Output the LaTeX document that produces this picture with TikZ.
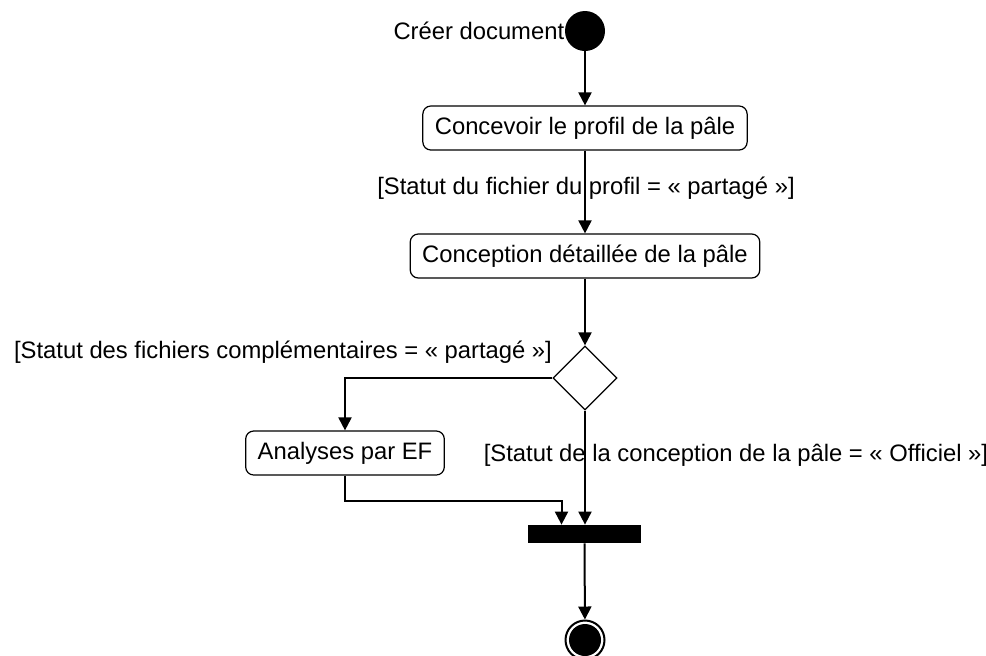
\documentclass[tikz,border=0pt]{standalone}
\usepackage{fontspec}
\setmainfont{Liberation Sans}
\usetikzlibrary{arrows.meta,shapes.geometric}

\tikzset{
  action/.style={draw, rounded corners=4pt, line width=0.6pt, inner xsep=6pt, minimum height=22pt},
  flow/.style={-{Triangle[length=6.5pt,width=6.5pt]}, line width=1pt},
}

\begin{document}
\begin{tikzpicture}[x=0.5pt,y=-0.5pt,font=\fontsize{11.9pt}{14pt}\selectfont]
    \useasboundingbox (0,0) rectangle (986,655);

    \node[circle, fill, minimum size=20pt, inner sep=0pt] (debut) at (585,31) {};
    \node[anchor=east, inner sep=0pt] (debutlbl) at (debut.west) {Créer document};

    \node[action] (profil) at (585,128) {Concevoir le profil de la pâle};
    \node (garde1) at (586,188) {[Statut du fichier du profil = « partagé »]};
    \node[action] (detail) at (585,256) {Conception détaillée de la pâle};

    \node[diamond, draw, line width=0.6pt, minimum size=32pt, inner sep=0pt] (choix) at (585,378) {};
    \node (garde2) at (283,352) {[Statut des fichiers complémentaires = « partagé »]};
    \node[action] (analyse) at (345,453) {Analyses par EF};
    \node (garde3) at (736,455) {[Statut de la conception de la pâle = « Officiel »]};

    \node[fill, minimum width=56.5pt, minimum height=9pt, inner sep=0pt] (jonction) at (584.5,534) {};
    \coordinate (jonctiong) at ([xshift=-11.5pt]jonction.north);

    \node[circle, draw, line width=1pt, minimum size=19.5pt, inner sep=0pt] (fin) at (585,640) {};
    \fill (fin.center) circle (8pt);

    \draw[flow] (debut) -- (profil);
    \draw[flow] (profil) -- (detail);
    \draw[flow] (detail) -- (choix);
    \draw[flow] (choix.west) -| (analyse.north);
    \draw[flow] (choix.south) -- (choix.south |- jonction.north);
    \draw[flow] (analyse.south) -- ++(0,25) -| (jonctiong);
    \draw[flow] (jonction) -- (fin);
\end{tikzpicture}
\end{document}
